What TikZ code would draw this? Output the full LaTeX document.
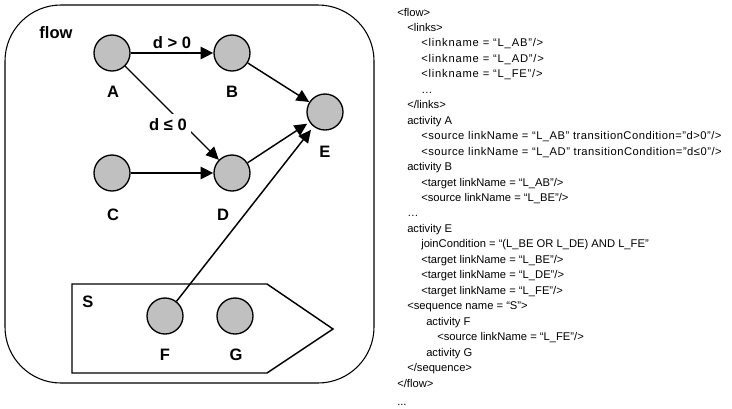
\documentclass[tikz,border=0pt]{standalone}
\usepackage{fontspec}
\setmainfont{Liberation Sans}
\usetikzlibrary{arrows.meta}
\definecolor{actfill}{RGB}{192,192,192}

% one line of the BPEL listing: name, left edge, line number, text
\newcommand\codeline[4]{\node[codetxt] (#1) at (#2,{16+(#3-1)*15.46}) {#4};}
% slightly tracked-out text for the wider listing lines
\newcommand\spaced[2]{{\addfontfeature{LetterSpace=#1}#2}}

\begin{document}
\begin{tikzpicture}[x=0.75pt,y=-0.75pt,
  act/.style={circle,draw,line width=1pt,fill=actfill,minimum size=27pt,inner sep=0pt},
  actlabel/.style={font=\fontsize{12.4}{14}\selectfont\bfseries,inner sep=1pt},
  tip/.style={-{Triangle[length=9.5pt,width=9pt]}},
  boldlink/.style={tip,line width=2pt},
  link/.style={tip,line width=1.1pt},
  thinlink/.style={tip,line width=0.8pt},
  codetxt/.style={font=\fontsize{8.4}{10}\selectfont,inner sep=0pt,anchor=base west}]
\useasboundingbox (0,0) rectangle (732,408);

% flow container
\draw[line width=0.8pt,rounded corners=42pt] (5,5) rectangle (374,383);
\node[actlabel] (flowlbl) at (56,33) {flow};

% sequence S
\draw[line width=1.1pt] (72,284) -- (267,284) -- (333,329) -- (267,373) -- (72,373) -- cycle;
\node[actlabel] (Slbl) at (88,302) {S};

% activities
\node[act] (A) at (112,53) {};
\node[act] (B) at (232,53) {};
\node[act] (E) at (325,112) {};
\node[act] (C) at (112,173) {};
\node[act] (D) at (232,173) {};
\node[act] (F) at (165,316) {};
\node[act] (G) at (235,316) {};

\node[actlabel] (Albl) at (113,92) {A};
\node[actlabel] (Blbl) at (232,92) {B};
\node[actlabel] (Elbl) at (325,152) {E};
\node[actlabel] (Clbl) at (113,215) {C};
\node[actlabel] (Dlbl) at (223,215) {D};
\node[actlabel] (Flbl) at (165,355) {F};
\node[actlabel] (Glbl) at (236,355) {G};

% links
\draw[boldlink] (A) -- node[actlabel,above=1pt] (cAB) {d > 0} (B);
\draw[boldlink] (C) -- (D);
\draw[thinlink] (A) -- (D);
\node[actlabel,fill=white,inner xsep=3pt,inner ysep=4pt] (cAD) at (168,125) {d ≤ 0};
\draw[link] (B) -- (E);
\draw[link,shorten >=2pt] (D) -- (E);
\draw[link,shorten >=3pt] (F) -- (E);

% BPEL listing
\codeline{c1}{397}{1}{<flow>}
\codeline{c2}{407}{2}{<links>}
\codeline{c3}{421}{3}{\spaced{7}{<linkname = “L\_AB”/>}}
\codeline{c4}{421}{4}{\spaced{7}{<linkname = “L\_AD”/>}}
\codeline{c5}{421}{5}{\spaced{7}{<linkname = “L\_FE”/>}}
\codeline{c6}{421}{6}{…}
\codeline{c7}{407}{7}{</links>}
\codeline{c8}{407}{8}{activity A}
\codeline{c9}{421}{9}{\spaced{4.5}{<source linkName = “L\_AB” transitionCondition=”d>0”/>}}
\codeline{c10}{421}{10}{\spaced{4.5}{<source linkName = “L\_AD” transitionCondition=”d≤0”/>}}
\codeline{c11}{407}{11}{activity B}
\codeline{c12}{421}{12}{<target linkName = “L\_AB”/>}
\codeline{c13}{421}{13}{<source linkName = “L\_BE”/>}
\codeline{c14}{407}{14}{…}
\codeline{c15}{407}{15}{activity E}
\codeline{c16}{421}{16}{joinCondition = “(L\_BE OR L\_DE) AND L\_FE”}
\codeline{c17}{421}{17}{<target linkName = “L\_BE”/>}
\codeline{c18}{421}{18}{<target linkName = “L\_DE”/>}
\codeline{c19}{421}{19}{<target linkName = “L\_FE”/>}
\codeline{c20}{407}{20}{<sequence name = “S”>}
\codeline{c21}{426}{21}{activity F}
\codeline{c22}{437}{22}{<source linkName = “L\_FE”/>}
\codeline{c23}{426}{23}{activity G}
\codeline{c24}{407}{24}{</sequence>}
\codeline{c25}{397}{25}{</flow>}
\node[codetxt] (c26) at (397,405) {...};
\end{tikzpicture}
\end{document}
